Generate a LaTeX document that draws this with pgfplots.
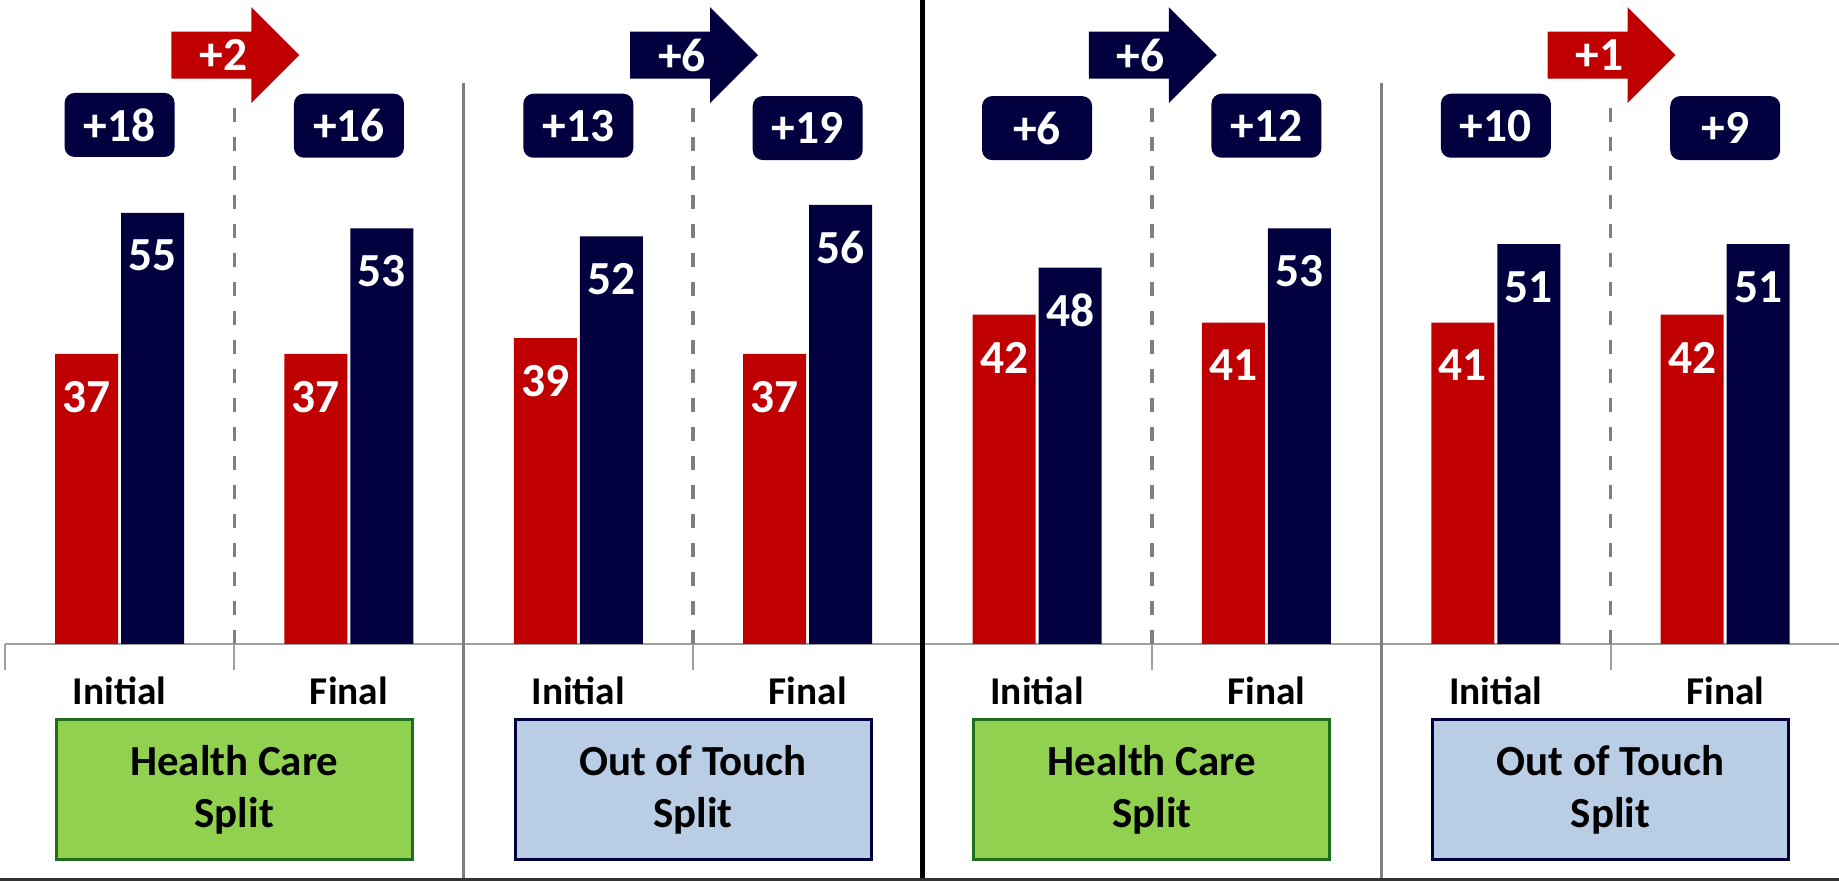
\documentclass[border=0pt]{standalone}
\usepackage{fontspec}
\setmainfont{Carlito}
\usepackage{pgfplots}
\pgfplotsset{compat=1.18}

\definecolor{barred}{HTML}{C00000}
\definecolor{navy}{HTML}{02003F}
\definecolor{hcgreen}{HTML}{92D050}
\definecolor{hcborder}{HTML}{1E6E1E}
\definecolor{otblue}{HTML}{B9CDE5}
\definecolor{sepgray}{HTML}{7F7F7F}

% initial / final share, per split and wave
\pgfplotstableread{
x rep dem
0 37 55
1 37 53
2 39 52
3 37 56
4 42 48
5 41 53
6 41 51
7 42 51
}\splits

\newcommand{\barfont}{\fontsize{13.5}{16}\selectfont\bfseries}
\newcommand{\gapbox}[3]{% x, y, text
  \node[fill=navy, text=white, rounded corners=0.1cm, minimum width=1.10cm,
        minimum height=0.64cm, inner sep=0pt, font=\barfont] at (axis cs:#1,#2) {#3};}
\newcommand{\shiftarrow}[3]{% x, colour, text
  \fill[#2, shift={(axis cs:#1,75.1)}] (-0.63cm,-0.235cm) -- (0.17cm,-0.235cm)
    -- (0.17cm,-0.48cm) -- (0.65cm,0cm) -- (0.17cm,0.48cm) -- (0.17cm,0.235cm)
    -- (-0.63cm,0.235cm) -- cycle;
  \node[text=white, font=\barfont] at (axis cs:#1,75.1) [xshift=-0.11cm] {#3};}
\newcommand{\splitbox}[4]{% x, fill, border, text
  \node[fill=#2, draw=#3, line width=0.03cm, minimum width=3.56cm, minimum height=1.40cm,
        inner sep=0pt, align=center, font=\fontsize{12.2}{14.6}\selectfont\bfseries]
        at (axis cs:#1,-18.6) {#4};}
\newcommand{\wavesep}[1]{%
  \draw[sepgray, line width=0.035cm, dash pattern=on 0.14cm off 0.15cm] (axis cs:#1,68.3) -- (axis cs:#1,0);}

\begin{document}
\begin{tikzpicture}
\path[use as bounding box] (-0.049cm,-2.37cm) rectangle (18.341cm,6.44cm);
\begin{axis}[
  at={(0,0)}, anchor=south west,
  scale only axis, width=18.35cm, height=6.44cm,
  xmin=-0.5, xmax=7.5, ymin=0, ymax=82.14,
  clip=false,
  axis x line*=bottom, axis y line=none,
  x axis line style={-, draw=gray!75, line width=0.02cm},
  ybar, bar width=0.63cm,
  xtick={0,...,7},
  xticklabels={Initial,Final,Initial,Final,Initial,Final,Initial,Final},
  major x tick style={draw=none},
  xticklabel style={anchor=base, yshift=-0.46cm, font=\fontsize{11.2}{13}\selectfont\bfseries},
  extra x ticks={-0.5,0.5,2.5,4.5,6.5},
  extra x tick style={xticklabels={}, major tick length=0.26cm, major x tick style={draw=gray!75, line width=0.02cm}},
  /pgf/number format/assume math mode=true,
  nodes near coords,
  every node near coord/.append style={anchor=center, yshift=-0.43cm, text=white, font=\barfont},
]
\addplot[fill=barred, draw=none, bar shift=-0.33cm] table[x=x, y=rep] {\splits};
\addplot[fill=navy, draw=none, bar shift=0.33cm] table[x=x, y=dem] {\splits};

% wave separators
\wavesep{0.5}
\wavesep{2.5}
\wavesep{4.5}
\wavesep{6.5}
\draw[sepgray, line width=0.03cm] (axis cs:1.5,71.6) -- (axis cs:1.5,-30);
\draw[sepgray, line width=0.03cm] (axis cs:5.5,71.6) -- (axis cs:5.5,-30);
\draw[black, line width=0.045cm] (axis cs:3.5,82.14) -- (axis cs:3.5,-30.5);
\draw[black!80, line width=0.03cm] (axis cs:-0.53,-30.1) -- (axis cs:7.5,-30.1);

% margins
\gapbox{0}{66.2}{+18}
\gapbox{1}{66.1}{+16}
\gapbox{2}{66.1}{+13}
\gapbox{3}{65.8}{+19}
\gapbox{4}{65.8}{+6}
\gapbox{5}{66.1}{+12}
\gapbox{6}{66.1}{+10}
\gapbox{7}{65.8}{+9}

\shiftarrow{0.5}{barred}{+2}
\shiftarrow{2.5}{navy}{+6}
\shiftarrow{4.5}{navy}{+6}
\shiftarrow{6.5}{barred}{+1}

\splitbox{0.5}{hcgreen}{hcborder}{Health Care\\Split}
\splitbox{2.5}{otblue}{navy}{Out of Touch\\Split}
\splitbox{4.5}{hcgreen}{hcborder}{Health Care\\Split}
\splitbox{6.5}{otblue}{navy}{Out of Touch\\Split}
\end{axis}
\end{tikzpicture}
\end{document}
